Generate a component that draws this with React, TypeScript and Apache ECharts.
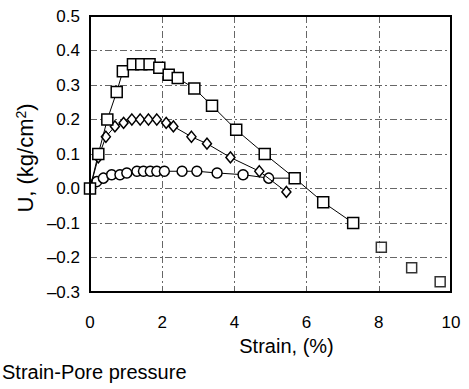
import React, { useEffect, useRef } from "react";
import * as echarts from "echarts";

const squareData: [number, number][] = [
  [0, 0], [0.23, 0.10], [0.48, 0.20], [0.74, 0.28], [0.91, 0.34], [1.19, 0.36],
  [1.42, 0.36], [1.65, 0.36], [1.92, 0.35], [2.18, 0.33], [2.43, 0.32], [2.89, 0.29],
  [3.38, 0.24], [4.05, 0.17], [4.84, 0.10], [5.67, 0.03], [6.46, -0.04], [7.29, -0.10],
];
const squareTail: [number, number][] = [[8.07, -0.17], [8.91, -0.23], [9.7, -0.27]];
const diamondData: [number, number][] = [
  [0, 0], [0.23, 0.09], [0.44, 0.15], [0.69, 0.18], [0.93, 0.19], [1.16, 0.20],
  [1.39, 0.20], [1.62, 0.20], [1.85, 0.20], [2.11, 0.19], [2.31, 0.18], [2.81, 0.15],
  [3.24, 0.13], [3.89, 0.09], [4.69, 0.05], [5.44, -0.01],
];
const circleData: [number, number][] = [
  [0, 0], [0.19, 0.02], [0.37, 0.03], [0.6, 0.04], [0.83, 0.04], [1.02, 0.045],
  [1.3, 0.05], [1.48, 0.05], [1.67, 0.05], [1.85, 0.05], [2.06, 0.05], [2.55, 0.05],
  [2.96, 0.05], [3.52, 0.045], [4.24, 0.04], [4.95, 0.03], [5.67, 0.03],
];
const titleText = "Strain-Pore pressure";
const xName = "Strain, (%)";
const yName = "U, (kg/cm{sup|2})";

const FONT = "Liberation Sans, Arial, sans-serif";

export default function App() {
  const ref = useRef<HTMLDivElement>(null);
  useEffect(() => {
    if (!ref.current) return;
    const chart = echarts.init(ref.current, undefined, { renderer: "svg" });
    const markerStyle = { color: "#fff", borderColor: "#000", borderWidth: 1.5 };
    const lineStyle = { color: "#000", width: 1 };
    const gridLine = { show: true, lineStyle: { color: "#666", width: 1, type: [7, 3, 2, 3] as any } };
    chart.setOption({
      animation: false,
      backgroundColor: "#fff",
      textStyle: { fontFamily: FONT },
      title: {
        text: titleText,
        left: 2,
        top: 362,
        padding: 0,
        textStyle: { fontSize: 20, fontWeight: "normal", color: "#000", fontFamily: FONT },
      },
      grid: { left: 90, right: 18, top: 16, bottom: 97 },
      xAxis: {
        type: "value",
        min: 0,
        max: 10,
        interval: 2,
        name: xName,
        nameLocation: "middle",
        nameGap: 38,
        nameTextStyle: { fontSize: 20, color: "#000", fontFamily: FONT, padding: [0, 0, 0, 32] },
        axisLine: { show: true, onZero: false, lineStyle: { color: "#000", width: 2 } },
        axisTick: { show: false },
        axisLabel: { margin: 22, fontSize: 17, color: "#000", fontFamily: FONT },
        splitLine: gridLine,
      },
      yAxis: {
        type: "value",
        min: -0.3,
        max: 0.5,
        interval: 0.1,
        name: yName,
        nameLocation: "middle",
        nameRotate: 90,
        nameGap: 50,
        nameTextStyle: {
          fontSize: 22,
          color: "#000",
          fontFamily: FONT,
          padding: [0, 8, 0, 0],
          rich: { sup: { fontSize: 14, verticalAlign: "top", padding: [0, 0, 8, 0], color: "#000", fontFamily: FONT } },
        },
        axisLine: { show: true, onZero: false, lineStyle: { color: "#000", width: 2 } },
        axisTick: { show: false },
        axisLabel: {
          margin: 10,
          fontSize: 17,
          color: "#000",
          fontFamily: FONT,
          formatter: (v: number) => {
            const r = Math.round(v * 10) / 10;
            const s = Math.abs(r).toFixed(1);
            return r < 0 ? "\u2013" + s : s;
          },
        },
        splitLine: gridLine,
      },
      graphic: [
        {
          type: "rect",
          shape: { x: 90, y: 16, width: 361, height: 276 },
          style: { fill: "none", stroke: "#000", lineWidth: 2 },
          z: 100,
          silent: true,
        },
      ],
      series: [
        {
          type: "line",
          data: circleData,
          symbol: "circle",
          symbolSize: 10,
          itemStyle: markerStyle,
          lineStyle,
          z: 3,
        },
        {
          type: "line",
          data: diamondData,
          symbol: "diamond",
          symbolSize: [9, 11],
          itemStyle: markerStyle,
          lineStyle,
          z: 4,
        },
        {
          type: "line",
          data: squareData,
          symbol: "rect",
          symbolSize: 11,
          itemStyle: markerStyle,
          lineStyle,
          z: 5,
        },
        {
          type: "scatter",
          data: squareTail,
          symbol: "rect",
          symbolSize: 10,
          itemStyle: markerStyle,
          z: 5,
        },
      ],
    });
    return () => chart.dispose();
  }, []);
  return <div ref={ref} style={{ position: "absolute", left: 0, top: 0, width: 469, height: 389 }} />;
}
